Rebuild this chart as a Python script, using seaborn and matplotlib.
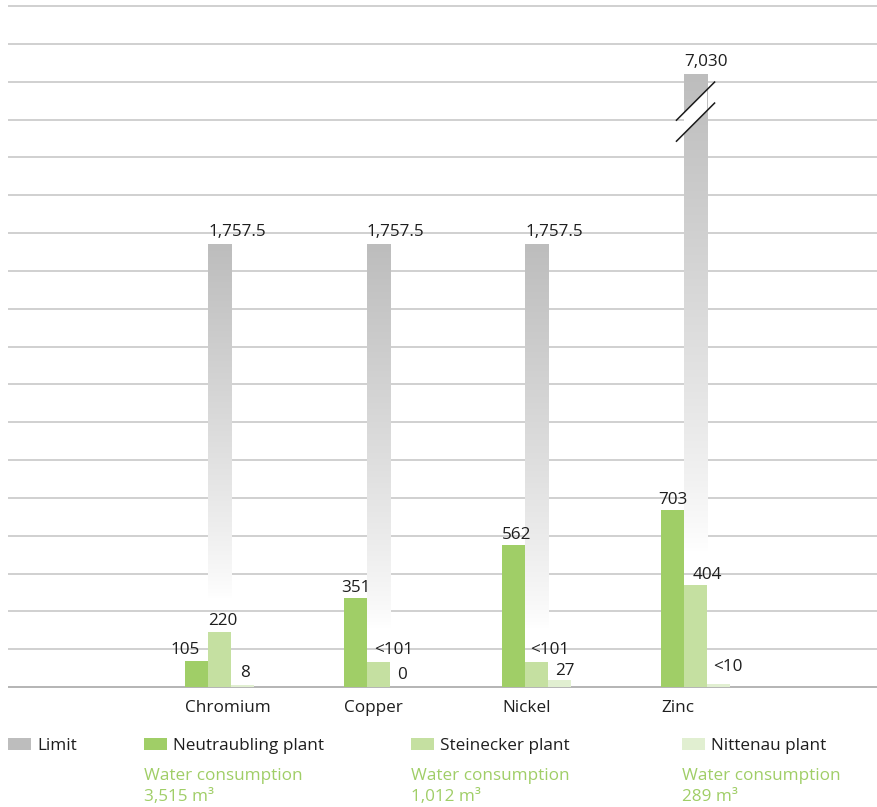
import numpy as np
import pandas as pd
import matplotlib
matplotlib.use("Agg")
import matplotlib.pyplot as plt
from matplotlib.patches import Rectangle, Polygon
import seaborn as sns

# ---- data -------------------------------------------------------------
categories = ["Chromium", "Copper", "Nickel", "Zinc"]
plants = ["Neutraubling plant", "Steinecker plant", "Nittenau plant"]

limit = [1757.5, 1757.5, 1757.5, 7030]
neutraubling = [105, 351, 562, 703]
steinecker = [220, 101, 101, 404]
nittenau = [8, 0, 27, 10]

limit_labels = ["1,757.5", "1,757.5", "1,757.5", "7,030"]
neutraubling_labels = ["105", "351", "562", "703"]
steinecker_labels = ["220", "<101", "<101", "404"]
nittenau_labels = ["8", "0", "27", "<10"]

water_consumption = ["3,515 m³", "1,012 m³", "289 m³"]

# values above this height are drawn as a broken bar
axis_break = 2430

# ---- style ------------------------------------------------------------
W, H = 878, 807
sns.set_theme(style="white")
plt.rcParams["font.family"] = ["Open Sans", "DejaVu Sans"]
TEXT = "#1e1e1e"
GREEN = "#a0ce67"
palette = {"Neutraubling plant": GREEN,
           "Steinecker plant": "#c5e0a1",
           "Nittenau plant": "#e1efd1"}
LIMIT_GREY = "#bdbdbd"
FS = 12.3

fig = plt.figure(figsize=(W / 100, H / 100), dpi=100)
fig.patch.set_facecolor("white")

# axes: baseline at 687 px, scale ~0.2522 px per unit
y_lo, y_hi = -10, 2710
px_per_unit = 0.25221
ax_bottom_px = 687 + 10 * px_per_unit
ax_top_px = 687 - 2710 * px_per_unit
ax = fig.add_axes([8 / W, (H - ax_bottom_px) / H, 1 - 8 / W,
                   (ax_bottom_px - ax_top_px) / H])

# ---- bars -------------------------------------------------------------
limit_df = pd.DataFrame({"category": categories,
                         "value": np.minimum(limit, axis_break)})
sns.barplot(data=limit_df, x="category", y="value", order=categories,
            width=0.145, color=LIMIT_GREY, saturation=1, errorbar=None,
            linewidth=0, edgecolor="none", ax=ax, zorder=2)
limit_patches = list(ax.patches)

plant_df = pd.DataFrame({
    "category": categories * 3,
    "plant": [p for p in plants for _ in categories],
    "value": neutraubling + steinecker + nittenau,
})
sns.barplot(data=plant_df, x="category", y="value", hue="plant",
            order=categories, hue_order=plants, palette=palette,
            width=0.435, gap=0, saturation=1, errorbar=None,
            linewidth=0, edgecolor="none",
            legend=False, ax=ax, zorder=3)
plant_patches = [p for p in ax.patches if p not in limit_patches]
for p in plant_patches:
    p.set_linewidth(0)
    p.set_edgecolor("none")

ax.set_xlim(-1.333, 4.150)
ax.set_ylim(y_lo, y_hi)

# grid
ax.set_yticks(np.arange(0, 2701, 150))
ax.yaxis.grid(True, color="#c8c8c8", linewidth=1.2)
ax.set_axisbelow(True)
ax.tick_params(axis="y", left=False, labelleft=False)
ax.tick_params(axis="x", bottom=False, labelbottom=False)
ax.set_xlabel("")
ax.set_ylabel("")
for s in ax.spines.values():
    s.set_visible(False)
ax.axhline(0, color="#b4b4b4", linewidth=1.3, zorder=1)

# ---- limit bars as vertical gradients ---------------------------------
fade_gap = 130  # gradient reaches white this far above the Steinecker bar
grey = np.array(matplotlib.colors.to_rgb(LIMIT_GREY))
t = np.linspace(0, 1, 256)[:, None]
for i, p in enumerate(limit_patches):
    x0, w, top = p.get_x(), p.get_width(), p.get_height()
    bottom = steinecker[i] + fade_gap
    tt = t ** 0.85
    img = (1 - tt)[:, :, None] * np.ones(3) + tt[:, :, None] * grey
    img = np.repeat(img, 2, axis=1)
    im = ax.imshow(img, extent=[x0, x0 + w, bottom, top], origin="lower",
                   aspect="auto", interpolation="bilinear", zorder=2)
    p.set_facecolor("none")
    p.set_edgecolor("none")
    im.set_clip_path(p)
    ax.annotate(limit_labels[i], (x0, top), xytext=(0, 8),
                textcoords="offset pixels", ha="left", va="baseline",
                fontsize=FS, color=TEXT, zorder=6)

ax.set_xlim(-1.333, 4.150)
ax.set_ylim(y_lo, y_hi)

# break marks on bars that exceed the axis
inv = ax.transData.inverted()
half = 19.6
for i, p in enumerate(limit_patches):
    if limit[i] <= axis_break:
        continue
    cx = p.get_x() + p.get_width() / 2
    cxd, topd = ax.transData.transform((cx, p.get_height()))
    y1, y2 = topd - 27, topd - 48
    gap = [(cxd - half, y1 - half), (cxd + half, y1 + half),
           (cxd + half, y2 + half), (cxd - half, y2 - half)]
    gap = inv.transform(gap)
    poly = Polygon(gap, closed=True, facecolor="white", edgecolor="none",
                   zorder=2.5)
    ax.add_patch(poly)
    poly.set_clip_path(p)
    for yc in (y1, y2):
        seg = inv.transform([(cxd - half, yc - half), (cxd + half, yc + half)])
        ax.plot(seg[:, 0], seg[:, 1], color="#1a1a1a", linewidth=1.1,
                zorder=5, solid_capstyle="butt")

# ---- value labels -----------------------------------------------------
label_sets = [neutraubling_labels, steinecker_labels, nittenau_labels]
# horizontal / vertical nudges (pixels) so neighbouring labels don't collide
label_dx = [[-11, 1, 3, 0], [3.5, 15.5, 13, 11.5], [2.5, 0.5, 5, 9]]
label_dy = [[7, 6, 6, 6], [7, 8, 8, 6], [8, 8, 5, 13.5]]
n = len(categories)
for k, labels in enumerate(label_sets):
    for i, lab in enumerate(labels):
        p = plant_patches[k * n + i]
        xc = p.get_x() + p.get_width() / 2
        ax.annotate(lab, (xc, p.get_height()),
                    xytext=(label_dx[k][i], label_dy[k][i]),
                    textcoords="offset pixels", ha="center", va="baseline",
                    fontsize=FS, color=TEXT, zorder=6)

# category names, left-aligned with the first bar of each group
for i, cat in enumerate(categories):
    p = plant_patches[i]
    ax.annotate(cat, (p.get_x(), 0), xycoords=("data", "data"),
                xytext=(0, -24.5), textcoords="offset pixels",
                ha="left", va="baseline", fontsize=FS, color=TEXT)

# ---- legend -----------------------------------------------------------
def fx(px):
    return px / W

def fy(py):
    return 1 - py / H

legend_x = [8, 144, 411, 682]
legend_names = ["Limit"] + plants
legend_colors = [LIMIT_GREY] + [palette[p] for p in plants]
for j, (x, name, col) in enumerate(zip(legend_x, legend_names, legend_colors)):
    fig.add_artist(Rectangle((fx(x), fy(750)), 23 / W, 12.3 / H,
                             transform=fig.transFigure, facecolor=col,
                             edgecolor="none"))
    fig.text(fx(x + 29), fy(750), name, ha="left", va="baseline",
             fontsize=FS, color=TEXT)
    if j > 0:
        fig.text(fx(x), fy(780), "Water consumption", ha="left",
                 va="baseline", fontsize=FS, color=GREEN)
        fig.text(fx(x), fy(801), water_consumption[j - 1], ha="left",
                 va="baseline", fontsize=FS, color=GREEN)

fig.savefig("out.png", dpi=100, facecolor="white")
